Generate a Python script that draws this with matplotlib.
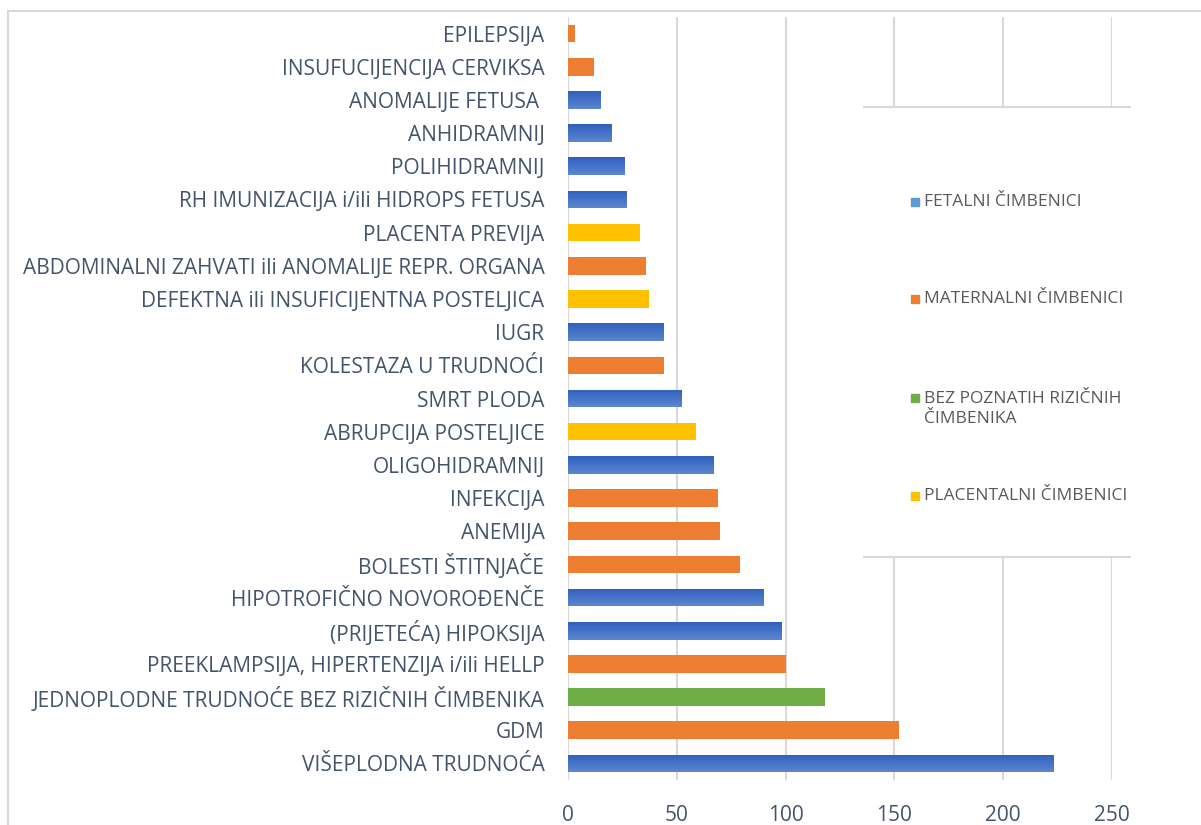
import numpy as np
import matplotlib.pyplot as plt
from matplotlib.lines import Line2D
from matplotlib.patches import Rectangle
from matplotlib.colors import LinearSegmentedColormap

plt.rcParams['font.family'] = ['Open Sans', 'DejaVu Sans']

# bottom -> top, as drawn
categories = [
    'VIŠEPLODNA TRUDNOĆA',
    'GDM',
    'JEDNOPLODNE TRUDNOĆE BEZ RIZIČNIH ČIMBENIKA',
    'PREEKLAMPSIJA, HIPERTENZIJA i/ili HELLP',
    '(PRIJETEĆA) HIPOKSIJA',
    'HIPOTROFIČNO NOVOROĐENČE',
    'BOLESTI ŠTITNJAČE',
    'ANEMIJA',
    'INFEKCIJA',
    'OLIGOHIDRAMNIJ',
    'ABRUPCIJA POSTELJICE',
    'SMRT PLODA',
    'KOLESTAZA U TRUDNOĆI',
    'IUGR',
    'DEFEKTNA ili INSUFICIJENTNA POSTELJICA',
    'ABDOMINALNI ZAHVATI ili ANOMALIJE REPR. ORGANA',
    'PLACENTA PREVIJA',
    'RH IMUNIZACIJA i/ili HIDROPS FETUSA',
    'POLIHIDRAMNIJ',
    'ANHIDRAMNIJ',
    'ANOMALIJE FETUSA ',
    'INSUFUCIJENCIJA CERVIKSA',
    'EPILEPSIJA',
]
values = [223, 152, 118, 100, 98, 90, 79, 70, 69, 67, 59, 52, 44, 44, 37, 36,
          33, 27, 26, 20, 15, 12, 3]
groups = ['F', 'M', 'B', 'M', 'F', 'F', 'M', 'M', 'M', 'F', 'P', 'F', 'M', 'F',
          'P', 'M', 'P', 'F', 'F', 'F', 'F', 'M', 'M']

group_names = {
    'F': 'FETALNI ČIMBENICI',
    'M': 'MATERNALNI ČIMBENICI',
    'B': 'BEZ POZNATIH RIZIČNIH\nČIMBENIKA',
    'P': 'PLACENTALNI ČIMBENICI',
}
bar_colors = {'F': '#4170C8', 'M': '#ED7D31', 'B': '#70AD47', 'P': '#FFC000'}
legend_colors = {'F': '#5B9BD5', 'M': '#ED7D31', 'B': '#70AD47', 'P': '#FFC000'}

text_color = '#44546A'
grid_color = '#D9D9D9'

W, H = 1201, 825
fig = plt.figure(figsize=(W / 100, H / 100), dpi=100)
# plot area in pixels: x 568..1112, y 17..780
ax = fig.add_axes([568 / W, (H - 780) / H, 544 / W, 763 / H])


def ax_x(px):
    return (px - 568) / 544


def ax_y(py):
    return (780 - py) / 763


ypos = list(range(len(categories)))
bars = ax.barh(ypos, values, height=0.53,
               color=[bar_colors[g] for g in groups], zorder=3)

# blue bars get the light-to-dark vertical gradient
blue_grad = LinearSegmentedColormap.from_list('bg', ['#2F60BD', '#5D86D0'])
grad = np.linspace(0, 1, 64).reshape(-1, 1)
for b, g in zip(bars, groups):
    if g != 'F':
        continue
    x, y = b.get_x(), b.get_y()
    w, h = b.get_width(), b.get_height()
    im = ax.imshow(grad, cmap=blue_grad, aspect='auto', origin='lower',
                   extent=(x, x + w, y + h, y), zorder=3.5, interpolation='bilinear')
    im.set_clip_path(b)

ax.set_xlim(0, 250)
ax.set_ylim(-0.5, len(categories) - 0.5)
ax.set_xticks([0, 50, 100, 150, 200, 250])
ax.set_yticks(ypos)
ax.set_yticklabels(categories)
ax.tick_params(axis='y', length=0, pad=17, labelsize=15, labelcolor=text_color)
ax.tick_params(axis='x', length=0, pad=18, labelsize=15, labelcolor=text_color)
ax.grid(axis='x', color=grid_color, linewidth=1.5, zorder=0)
for s in ax.spines.values():
    s.set_visible(False)
ax.axvline(0, color=grid_color, linewidth=1.5, zorder=2)

# white legend panel covering the grid
x0, x1 = ax_x(864), ax_x(1130)
yb, yt = ax_y(557), ax_y(107)
ax.add_patch(Rectangle((x0, yb), x1 - x0, yt - yb, transform=ax.transAxes,
                       facecolor='white', edgecolor='none', zorder=4, clip_on=False))
for yy in (yb, yt):
    ax.add_line(Line2D([x0, x1], [yy, yy], transform=ax.transAxes,
                       color=grid_color, linewidth=1.5, zorder=5, clip_on=False))

# legend entries (first-line y in pixels)
entry_rows = {'F': 202, 'M': 299, 'B': 398, 'P': 496}
line_gap = 22
for k, label in group_names.items():
    py = entry_rows[k]
    nlines = label.count('\n') + 1
    ax.plot([ax_x(915)], [ax_y(py)], marker='s', markersize=5.5, linestyle='none',
            color=legend_colors[k], transform=ax.transAxes, clip_on=False, zorder=6)
    ax.text(ax_x(924), ax_y(py + line_gap * (nlines - 1) / 2), label,
            transform=ax.transAxes, ha='left', va='center', fontsize=12.5,
            linespacing=1.27, color='#595959', zorder=6)

# outer chart border
fig.patches.append(Rectangle((8 / W, -0.1), 1.2, 1.1 - 11 / H,
                             transform=fig.transFigure, fill=False,
                             edgecolor=grid_color, linewidth=1.5))

fig.savefig('out.png', dpi=100)
